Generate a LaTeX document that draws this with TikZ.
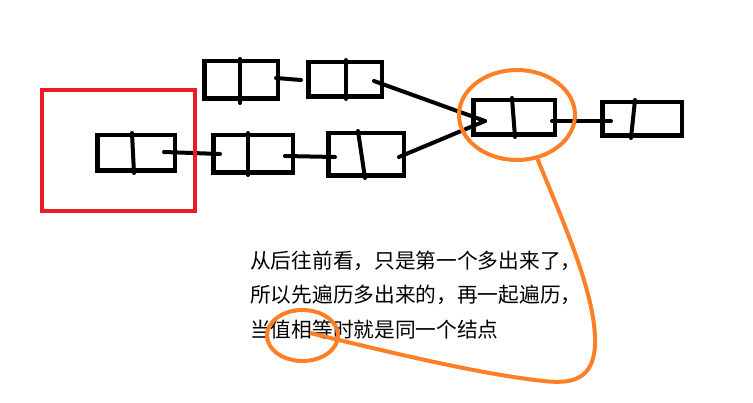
\documentclass[tikz,border=0pt]{standalone}
\usepackage{fontspec}
\usepackage{xcolor}
\usepackage{tikz}
\usetikzlibrary{shapes.geometric,calc}
\newfontfamily\cjk{Noto Sans CJK SC}
\definecolor{paintred}{HTML}{ED1C24}
\definecolor{paintorange}{HTML}{FF7F27}

\begin{document}
\begin{tikzpicture}[
  x=1pt, y=-1pt,
  cell/.style={draw, line width=4.5pt, inner sep=0pt},
  link/.style={line width=4pt, line cap=round},
  ring/.style={draw=paintorange, line width=4pt},
  note/.style={font=\cjk\fontsize{20.7}{34.5}\selectfont, inner sep=0pt, anchor=base west}]

  \useasboundingbox (0,0) rectangle (753,403);

  % list nodes
  \node[cell, minimum width=77.5, minimum height=35.5] (A) at (136,153) {};
  \node[cell, minimum width=73.5, minimum height=37.5] (B) at (241,80) {};
  \node[cell, minimum width=73.5, minimum height=34.5] (C) at (345,79.5) {};
  \node[cell, minimum width=79.5, minimum height=37.5] (D) at (253,154) {};
  \node[cell, minimum width=75.5, minimum height=42.5] (E) at (366,154.5) {};
  \node[cell, minimum width=81.5, minimum height=34.5] (F) at (514,117.5) {};
  \node[cell, minimum width=79.5, minimum height=33.5] (G) at (642,119) {};

  % dividers
  \draw[link] ($(A.north)+(-4,0)$) -- ($(A.south)+(-2,0)$);
  \draw[link] ($(B.north)+(-1,0)$) -- ($(B.south)+(-1,2)$);
  \draw[link] ($(C.north)+(1,0)$) -- ($(C.south)+(1,0)$);
  \draw[link] ($(D.north)+(-5,0)$) -- ($(D.south)+(-5,0)$);
  \draw[link] ($(E.north)+(-8,0)$) -- ($(E.south)+(-1,0)$);
  \draw[link] ($(F.north)+(-2,0)$) -- ($(F.south)+(1,0)$);
  \draw[link] ($(G.north)+(-7,0)$) -- ($(G.south)+(-11,0)$);

  % pointers
  \coordinate (Ftip) at ($(F.west)+(14,3.5)$);
  \draw[link] ($(A.east)+(-13,-1)$) -- ($(D.west)+(9,0)$);
  \draw[link] ($(B.east)+(-4,-2)$) -- ($(C.west)+(-5,0.5)$);
  \draw[link] ($(D.east)+(-10,2)$) -- ($(E.west)+(9,2.5)$);
  \draw[link] ($(C.east)+(-10,1.5)$) -- (Ftip);
  \draw[link] ($(E.east)+(-7,2.5)$) -- (Ftip);
  \draw[link] ($(F.east)+(-5,3.5)$) -- ($(G.west)+(11,2)$);

  \node[draw=paintred, line width=4.3pt, minimum width=152.7, minimum height=120.7, inner sep=0pt] (box) at (118.5,150.5) {};

  % note
  \node[note] (line1) at (250,268.5) {从后往前看，只是第一个多出来了，};
  \node[note] (line2) at (250,303) {所以先遍历多出来的，再一起遍历，};
  \node[note] (line3) at (250,337.5) {当值相等时就是同一个结点};

  % marks
  \node[ring, ellipse, minimum width=116, minimum height=90, inner sep=0pt] (bigring) at (517,115) {};
  \node[ring, ellipse, minimum width=71, minimum height=51, inner sep=0pt] (smallring) at (302.5,335.5) {};
  \coordinate (hook) at (310,333);
  \draw[ring] (bigring.-65) .. controls (560,215) and (597,295) .. (595,345) .. controls (593,385) and (565,384) .. (535,380) .. controls (470,372) and (380,350) .. (hook);
\end{tikzpicture}
\end{document}
